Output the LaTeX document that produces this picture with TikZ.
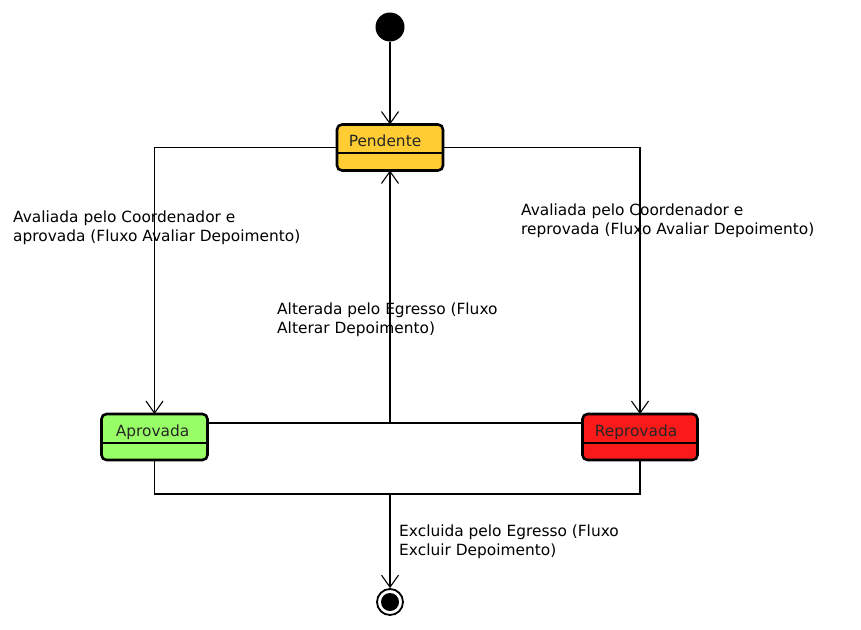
\documentclass[tikz,border=0pt]{standalone}
\usepackage{fontspec}
\setmainfont{DejaVu Sans}
\usetikzlibrary{arrows.meta}
\usetikzlibrary{backgrounds}

\definecolor{pendcolor}{RGB}{255,204,51}
\definecolor{aprcolor}{RGB}{153,255,102}
\definecolor{repcolor}{RGB}{250,26,26}

\begin{document}
\begin{tikzpicture}[x=1pt, y=-1pt, >={Straight Barb[length=12pt,width=17pt]}, font=\fontsize{15.4}{19}\selectfont, background rectangle/.style={fill=white}, show background rectangle]
\tikzset{state/.style={draw=black,line width=2.6pt,rounded corners=5pt,fill=#1,minimum width=106pt,minimum height=46pt,inner sep=0,outer sep=0},
  statename/.style={inner sep=0,text=black!85},
  edge/.style={line width=1.1pt},
  guard/.style={align=left,anchor=north west,inner sep=0}}
\useasboundingbox (0,0) rectangle (861,629);

% start and end
\node[circle,fill=black,minimum size=29pt,inner sep=0] (start) at (390,27) {};
\node[circle,draw=black,line width=1.8pt,minimum size=26pt,inner sep=0] (stop) at (390,602) {};
\node[circle,fill=black,minimum size=18pt,inner sep=0] (stopdot) at (stop) {};

% states
\node[state=pendcolor] (pend) at (390,147.5) {};
\node[statename] (pendtxt) at (385,141) {Pendente};
\draw[line width=1.2pt] (pend.west |- 0,153) -- (pend.east |- 0,153);

\node[state=aprcolor] (apr) at (154.5,437) {};
\node[statename] (aprtxt) at (152.5,432) {Aprovada};
\draw[line width=1.2pt] (apr.west |- 0,443) -- (apr.east |- 0,443);

\node[state=repcolor,minimum width=115pt] (rep) at (640,437) {};
\node[statename] (reptxt) at (636,432) {Reprovada};
\draw[line width=1.2pt] (rep.west |- 0,443) -- (rep.east |- 0,443);

% junctions
\coordinate (back) at (390,423);
\coordinate (del) at (390,494);

% transitions
\draw[edge,->] (start) -- (pend);
\draw[edge,->] (pend.west) -| (apr.north);
\draw[edge,->] (pend.east) -| (rep.north);
\draw[edge] (apr.east |- back) -- (rep.west |- back);
\draw[edge,->] (back) -- (pend.south);
\draw[edge] (apr.south) |- (del) -| (rep.south);
\draw[edge,->] (del) -- (stop);

% labels
\node[guard] (lblapr) at (13,211) {Avaliada pelo Coordenador e\\aprovada (Fluxo Avaliar Depoimento)};
\node[guard] (lblrep) at (521,204) {Avaliada pelo Coordenador e\\reprovada (Fluxo Avaliar Depoimento)};
\node[guard] (lblalt) at (277,303) {Alterada pelo Egresso (Fluxo\\Alterar Depoimento)};
\node[guard] (lblexc) at (399,525) {Excluida pelo Egresso (Fluxo\\Excluir Depoimento)};

\end{tikzpicture}
\end{document}
